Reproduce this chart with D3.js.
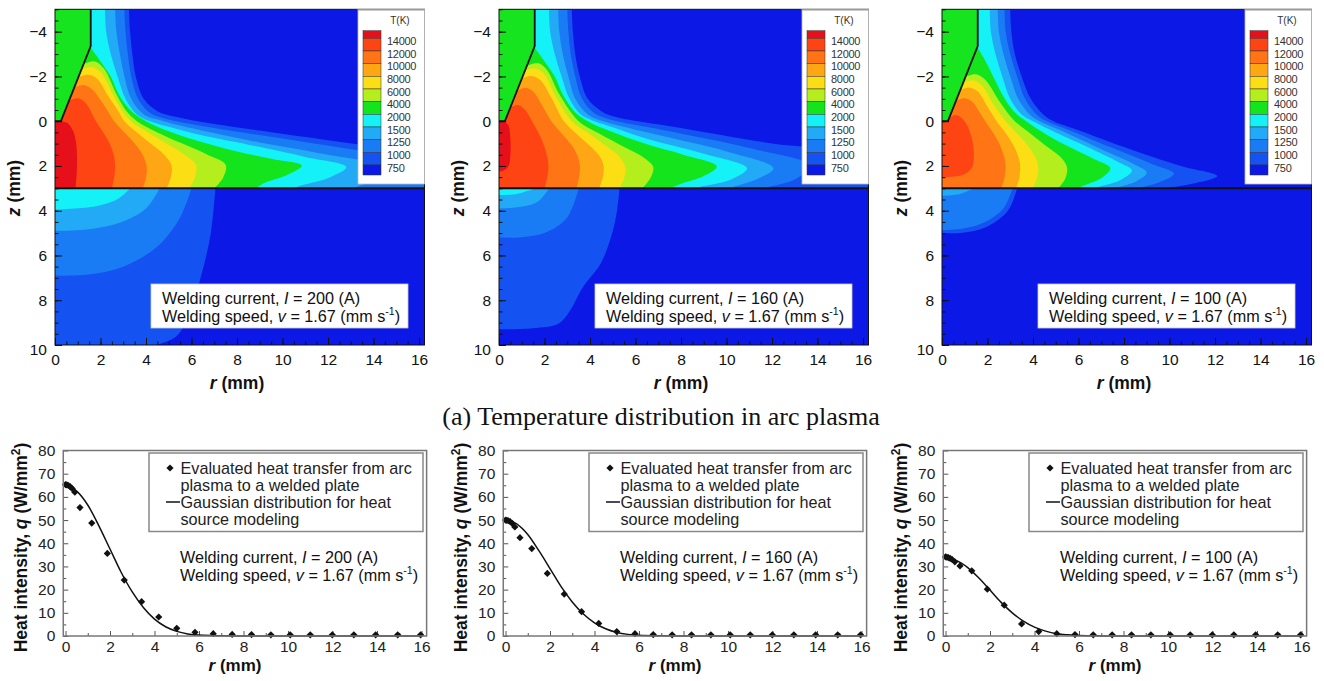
<!DOCTYPE html>
<html>
<head>
<meta charset="utf-8">
<script src="https://cdn.jsdelivr.net/npm/d3@7"></script>
<style>
  body { margin: 0; background: #fff; }
  svg { display: block; }
  text { font-family: "Liberation Sans", Arial, Helvetica, sans-serif; }
  text.caption { font-family: "Liberation Serif", "Times New Roman", serif; }
</style>
</head>
<body>
<svg id="fig" width="1324" height="681"></svg>
<script>
// ---------------- data ----------------
const currents = [200, 160, 100];
const weldingSpeed = "1.67";

// isotherm levels (K) and legend labels, colour of each band (below 750 first)
const levels = [750, 1000, 1250, 1500, 2000, 4000, 6000, 8000, 10000, 12000, 14000];
const legendLabels = ["14000", "12000", "10000", "8000", "6000", "4000", "2000", "1500", "1250", "1000", "750"];
const bandColors = ["#0b18e6", "#1452f2", "#1a7cf4", "#22aaf6", "#14f2f8", "#14e41c",
                    "#b4ee1c", "#fcde14", "#ffa614", "#ff7414", "#ff4414", "#e6101a"];
const electrodeColor = "#16e41e";

// tungsten electrode outline (r, z) in mm
const electrode = [[0, -5], [1.57, -5], [1.57, -3.36], [0.26, 0], [0, 0]];

// isotherms in the arc (z < 3), each [level, [[r, z], ...]]
const arcIso200 = [
  [750,  [[3.25,-5],[3.3,-4],[3.4,-3],[3.55,-2],[3.9,-1],[4.5,-0.45],[5.3,-0.2],[6.4,0.02],[9,0.42],[12,0.85],[14.5,1.2],[16.6,1.5],[16.6,3]]],
  [1000, [[3.05,-5],[3.1,-4],[3.2,-3],[3.35,-2],[3.65,-1],[4.2,-0.35],[4.9,-0.1],[6.4,0.2],[9.5,0.7],[13,1.25],[16.6,1.8],[16.6,3]]],
  [1250, [[2.64,-5],[2.7,-4],[2.85,-3],[3.05,-2],[3.35,-1],[3.9,-0.3],[4.6,-0.05],[5.3,0.15],[6.4,0.4],[9,0.95],[12,1.5],[14.3,2.05],[14.0,2.6],[13.0,3]]],
  [1500, [[2.2,-5],[2.25,-4],[2.45,-3],[2.75,-2],[3.1,-1],[3.6,-0.3],[4.3,0.05],[5.2,0.3],[6.4,0.62],[8.5,1.05],[11,1.6],[12.8,2.05],[12.1,2.5],[10.9,2.85],[10.4,3]]],
  [2000, [[1.55,-3.3],[1.95,-2.75],[2.45,-2.0],[2.8,-1.2],[3.3,-0.5],[4.0,0.0],[5.0,0.45],[6.4,0.92],[8.0,1.35],[9.6,1.7],[10.85,1.98],[10.2,2.4],[9.3,2.72],[8.8,3]]],
  [4000, [[1.25,-2.55],[1.75,-2.67],[2.15,-2.35],[2.7,-1.2],[3.1,-0.5],[3.6,0.0],[4.5,0.5],[5.6,1.0],[6.7,1.5],[7.5,1.95],[7.4,2.5],[7.0,3]]],
  [6000, [[1.16,-2.3],[1.6,-2.42],[2.0,-2.2],[2.55,-1.2],[2.9,-0.55],[3.35,0.0],[4.1,0.5],[4.9,1.0],[5.7,1.5],[6.2,1.95],[6.15,2.5],[5.9,3]]],
  [8000, [[1.02,-1.95],[1.45,-2.07],[1.85,-1.9],[2.35,-1.1],[2.75,-0.5],[3.05,0.0],[3.6,0.5],[4.2,1.0],[4.8,1.5],[5.13,2.0],[5.08,2.55],[4.9,3]]],
  [10000,[[0.85,-1.5],[1.25,-1.62],[1.6,-1.45],[2.1,-0.8],[2.6,0.0],[3.1,0.55],[3.5,1.0],[3.85,1.5],[4.03,2.05],[3.98,2.6],[3.85,3]]],
  [12000,[[0.61,-0.9],[1.0,-1.02],[1.35,-0.8],[1.8,0.0],[2.15,0.55],[2.4,1.0],[2.6,1.6],[2.64,2.1],[2.58,2.6],[2.5,3]]],
  [14000,[[0.26,0.0],[0.55,0.08],[0.8,0.45],[0.93,1.0],[0.97,1.7],[0.95,2.4],[0.9,3]]]
];
const arcIso160 = [
  [750,  [[3.2,-5],[3.25,-4],[3.35,-3],[3.55,-2],[3.9,-1],[4.5,-0.45],[5.1,-0.2],[8,0.3],[12,1.0],[16.6,1.7],[16.6,3]]],
  [1000, [[3.0,-5],[3.05,-4],[3.15,-3],[3.35,-2],[3.65,-1],[4.2,-0.35],[4.8,-0.1],[7.5,0.45],[11,1.2],[13.7,2.0],[13.0,2.6],[11.5,3]]],
  [1250, [[2.6,-5],[2.65,-4],[2.8,-3],[3.05,-2],[3.35,-1],[3.9,-0.3],[4.5,-0.02],[5.3,0.2],[7,0.62],[10,1.35],[12.06,2.1],[11.3,2.6],[10,3]]],
  [1500, [[2.2,-5],[2.25,-4],[2.45,-3],[2.75,-2],[3.1,-1],[3.6,-0.3],[4.2,0.0],[5.1,0.3],[6.5,0.78],[9,1.45],[10.9,2.1],[10.2,2.6],[9.0,2.9],[8.6,3]]],
  [2000, [[1.55,-3.3],[1.95,-2.75],[2.45,-2.0],[2.8,-1.2],[3.3,-0.45],[3.9,0.0],[4.9,0.45],[6.4,1.0],[8.1,1.5],[9.57,2.02],[9.0,2.45],[8.0,2.8],[7.5,3]]],
  [4000, [[1.22,-2.47],[1.7,-2.6],[2.1,-2.3],[2.65,-1.2],[3.5,0.0],[4.4,0.55],[5.5,1.15],[6.4,1.65],[6.78,2.05],[6.65,2.55],[6.3,3]]],
  [6000, [[1.14,-2.25],[1.55,-2.37],[1.95,-2.15],[2.5,-1.1],[3.2,0.0],[3.95,0.55],[4.7,1.1],[5.3,1.6],[5.55,2.05],[5.5,2.55],[5.3,3]]],
  [8000, [[0.99,-1.9],[1.4,-2.02],[1.8,-1.85],[2.3,-1.05],[2.85,0.0],[3.45,0.6],[4.05,1.15],[4.45,1.6],[4.6,2.05],[4.55,2.55],[4.4,3]]],
  [10000,[[0.79,-1.36],[1.15,-1.5],[1.5,-1.33],[1.9,-0.7],[2.3,0.0],[2.8,0.6],[3.25,1.15],[3.5,1.7],[3.56,2.1],[3.5,2.6],[3.4,3]]],
  [12000,[[0.5,-0.62],[0.85,-0.72],[1.15,-0.5],[1.45,0.0],[1.75,0.55],[1.98,1.1],[2.14,1.7],[2.17,2.15],[2.1,2.6],[2.0,3]]],
  [14000,[[0.26,0.02],[0.42,0.2],[0.5,0.8],[0.5,1.5],[0.42,2.0],[0.2,2.2],[0,2.25]]]
];
const arcIso100 = [
  [750,  [[3.0,-5],[3.05,-4],[3.2,-3],[3.5,-2],[3.9,-1],[4.45,-0.3],[4.9,0.0],[6,0.4],[8,1.15],[10.5,2.0],[12.1,2.45],[11.0,2.8],[9.8,3]]],
  [1000, [[2.75,-5],[2.8,-4],[3.0,-3],[3.3,-2],[3.65,-1],[4.15,-0.3],[4.6,0.0],[5.6,0.4],[7.5,1.2],[9.2,1.9],[10.2,2.35],[9.5,2.75],[8.5,3]]],
  [1250, [[2.45,-5],[2.5,-4],[2.7,-3],[3.0,-2],[3.35,-1],[3.85,-0.3],[4.3,0.0],[5.3,0.45],[7,1.25],[8.4,1.9],[9.0,2.3],[8.5,2.7],[7.5,3]]],
  [1500, [[2.1,-5],[2.15,-4],[2.35,-3],[2.65,-2],[3.0,-1],[3.5,-0.3],[4.0,0.0],[5.0,0.5],[6.4,1.15],[7.7,1.8],[8.35,2.2],[7.9,2.6],[7.0,2.9],[6.6,3]]],
  [2000, [[1.55,-3.3],[1.85,-2.8],[2.25,-2.0],[2.7,-1.1],[3.15,-0.45],[3.7,0.0],[4.6,0.6],[5.7,1.2],[6.7,1.7],[7.4,2.1],[7.0,2.55],[6.3,2.85],[5.9,3]]],
  [4000, [[1.04,-2.0],[1.5,-2.1],[1.9,-1.85],[2.55,-0.85],[3.2,0.0],[3.95,0.6],[4.7,1.2],[5.3,1.7],[5.5,2.1],[5.4,2.6],[5.1,3]]],
  [6000, [[0.93,-1.72],[1.35,-1.83],[1.75,-1.6],[2.3,-0.7],[2.8,0.0],[3.35,0.6],[3.85,1.2],[4.2,1.85],[4.2,2.45],[4.0,3]]],
  [8000, [[0.8,-1.39],[1.2,-1.5],[1.55,-1.35],[2.0,-0.65],[2.4,0.0],[2.85,0.6],[3.2,1.2],[3.42,1.85],[3.4,2.5],[3.25,3]]],
  [10000,[[0.62,-0.92],[1.0,-1.03],[1.35,-0.85],[1.65,-0.4],[1.9,0.0],[2.3,0.6],[2.6,1.2],[2.78,1.85],[2.75,2.5],[2.6,3]]],
  [12000,[[0.33,-0.18],[0.65,-0.28],[0.95,-0.05],[1.2,0.4],[1.36,1.0],[1.4,1.6],[1.3,2.1],[0.9,2.4],[0.4,2.48],[0,2.5]]]
];

// isotherms in the welded plate (z > 3)
const plateIso200 = [
  [750,  [[7.05,3],[6.85,5],[6.4,7],[5.9,8.6],[5.35,9.6],[4.6,9.95],[4.0,10.1]]],
  [1000, [[6.0,3],[5.5,4.3],[4.5,5.6],[3.0,6.5],[1.5,6.85],[0,6.9]]],
  [1250, [[4.6,3],[4.0,3.9],[2.8,4.55],[1.3,4.85],[0,4.9]]],
  [1500, [[3.3,3],[2.8,3.45],[1.8,3.8],[0,3.95]]]
];
const plateIso160 = [
  [750,  [[5.3,3],[5.1,4.5],[4.5,6.3],[3.7,7.4],[3.1,8.5],[2.6,9.05],[1.5,9.25],[0,9.3]]],
  [1000, [[3.5,3],[3.0,4.3],[2.0,5.0],[1.0,5.18],[0,5.2]]],
  [1250, [[2.2,3],[1.7,3.6],[0.8,3.85],[0,3.9]]],
  [1500, [[1.6,3],[0.8,3.25],[0,3.3]]]
];
const plateIso100 = [
  [750,  [[3.3,3],[2.9,4.0],[1.9,4.75],[0.9,4.98],[0,5.0]]],
  [1000, [[3.1,3],[2.7,3.9],[1.8,4.55],[0.8,4.82],[0,4.87]]],
  [1250, [[1.4,3],[0.8,3.25],[0,3.33]]]
];

// heat intensity at the plate surface, q (W/mm^2)
const rSamples = [0, 0.06, 0.13, 0.21, 0.3, 0.42, 0.65, 1.18, 1.88, 2.64, 3.42, 4.19, 5.0, 5.82, 6.64, 7.49, 8.36, 9.23, 10.1, 11.0, 11.99, 12.96, 13.94, 14.93, 15.96];
const heat200 = [65.3, 65.2, 64.9, 64.4, 63.6, 62.0, 55.4, 48.7, 35.6, 24.1, 14.8, 8.2, 3.3, 1.6, 1.0, 0.7, 0.6, 0.5, 0.5, 0.5, 0.5, 0.5, 0.5, 0.5, 0.5];
const heat160 = [50.0, 49.9, 49.7, 49.3, 48.6, 47.0, 42.4, 37.7, 27.0, 18.1, 10.5, 5.4, 1.9, 1.0, 0.6, 0.5, 0.5, 0.5, 0.5, 0.5, 0.5, 0.5, 0.5, 0.5, 0.5];
const heat100 = [34.1, 34.0, 33.8, 33.5, 33.0, 32.0, 30.2, 28.1, 20.2, 13.3, 5.2, 1.9, 1.0, 0.6, 0.5, 0.5, 0.5, 0.5, 0.5, 0.5, 0.5, 0.5, 0.5, 0.5, 0.5];

// Gaussian heat source model
const gaussR   = [0, 0.5, 1, 1.5, 2, 2.5, 3, 3.5, 4, 4.5, 5, 5.5, 6, 7, 8, 10, 12, 14, 16];
const gauss200 = [64.5, 62.5, 56.5, 47.5, 37.5, 27.5, 19.0, 12.3, 7.3, 4.0, 2.0, 0.9, 0.4, 0.1, 0, 0, 0, 0, 0];
const gauss160 = [50.0, 48.4, 43.8, 36.8, 29.1, 21.3, 14.7, 9.5, 5.7, 3.1, 1.55, 0.7, 0.3, 0.08, 0, 0, 0, 0, 0];
const gauss100 = [33.5, 32.5, 29.5, 25.0, 19.8, 14.5, 10.0, 6.4, 3.8, 2.1, 1.0, 0.5, 0.2, 0.05, 0, 0, 0, 0, 0];

const contourTicksR = [0, 2, 4, 6, 8, 10, 12, 14, 16];
const contourTicksZ = [-4, -2, 0, 2, 4, 6, 8, 10];
const heatTicksR = [0, 2, 4, 6, 8, 10, 12, 14, 16];
const heatTicksQ = [0, 10, 20, 30, 40, 50, 60, 70, 80];
const legendText = ["Evaluated heat transfer from arc", "plasma to a welded plate",
                    "Gaussian distribution for heat", "source modeling"];
const captionText = "(a) Temperature distribution in arc plasma";

const arcSets = [arcIso200, arcIso160, arcIso100];
const plateSets = [plateIso200, plateIso160, plateIso100];
const heatSets = [heat200, heat160, heat100];
const gaussSets = [gauss200, gauss160, gauss100];

// ---------------- drawing ----------------
const svg = d3.select("#fig");
const defs = svg.append("defs");
const contourLeft = [55, 499, 942];
const heatOffset = [0, 440, 880];
const noteSize = 16.2;

function weldingLabel(sel, x, y1, y2, current, size) {
  const t1 = sel.append("text").attr("x", x).attr("y", y1).attr("font-size", size).attr("fill", "#111");
  t1.append("tspan").text("Welding current, ");
  t1.append("tspan").attr("font-style", "italic").text("I");
  t1.append("tspan").text(` = ${current} (A)`);
  const t2 = sel.append("text").attr("x", x).attr("y", y2).attr("font-size", size).attr("fill", "#111");
  t2.append("tspan").text("Welding speed, ");
  t2.append("tspan").attr("font-style", "italic").text("v");
  t2.append("tspan").text(` = ${weldingSpeed} (mm s`);
  t2.append("tspan").attr("font-size", size * 0.65).attr("dy", -size * 0.42).text("-1");
  t2.append("tspan").attr("dy", size * 0.42).text(")");
}

function drawContour(i) {
  const left = contourLeft[i];
  const rMax = 16.24;
  const x = d3.scaleLinear().domain([0, rMax]).range([left, left + 369.5]);
  const y = d3.scaleLinear().domain([-5, 10]).range([9.3, 345]);
  const g = svg.append("g");

  const arcId = "arc" + i, plateId = "plate" + i;
  defs.append("clipPath").attr("id", arcId).append("rect")
    .attr("x", x(0)).attr("y", y(-5)).attr("width", x(rMax) - x(0)).attr("height", y(3) - y(-5));
  defs.append("clipPath").attr("id", plateId).append("rect")
    .attr("x", x(0)).attr("y", y(3)).attr("width", x(rMax) - x(0)).attr("height", y(10) - y(3));

  g.append("rect").attr("x", x(0)).attr("y", y(-5)).attr("width", x(rMax) - x(0))
    .attr("height", y(10) - y(-5)).attr("fill", bandColors[0]);

  const curve = d3.line().x(d => x(d[0])).y(d => y(d[1])).curve(d3.curveCatmullRom.alpha(0.5));
  const isoPath = (pts, zClose) => {
    const last = pts[pts.length - 1];
    return curve(pts) + `L${x(0)},${y(last[1])}L${x(0)},${y(zClose)}Z`;
  };
  const colorOf = lv => bandColors[levels.indexOf(lv) + 1];

  const arcG = g.append("g").attr("clip-path", `url(#${arcId})`);
  arcG.selectAll("path").data(arcSets[i]).join("path")
    .attr("d", d => isoPath(d[1], -5)).attr("fill", d => colorOf(d[0]));

  const plateG = g.append("g").attr("clip-path", `url(#${plateId})`);
  plateG.selectAll("path").data(plateSets[i]).join("path")
    .attr("d", d => isoPath(d[1], 3)).attr("fill", d => colorOf(d[0]));

  // electrode
  const poly = d3.line().x(d => x(d[0])).y(d => y(d[1]));
  g.append("path").attr("d", poly(electrode) + "Z").attr("fill", electrodeColor);
  g.append("path").attr("d", poly(electrode.slice(1))).attr("fill", "none")
    .attr("stroke", "#111").attr("stroke-width", 1.8);

  // plate surface
  g.append("line").attr("x1", x(0)).attr("x2", x(rMax)).attr("y1", y(3)).attr("y2", y(3))
    .attr("stroke", "#111").attr("stroke-width", 2);

  // axes with inward ticks
  const axL = g.append("g").attr("transform", `translate(${x(0)},0)`)
    .call(d3.axisLeft(y).tickValues(contourTicksZ).tickSizeInner(-7).tickSizeOuter(0).tickPadding(8));
  g.append("g").attr("transform", `translate(${x(0)},0)`)
    .call(d3.axisLeft(y).tickValues(d3.range(-5, 10.01, 0.5)).tickSizeInner(-3.5).tickSizeOuter(0).tickFormat(""));
  const axB = g.append("g").attr("transform", `translate(0,${y(10)})`)
    .call(d3.axisBottom(x).tickValues(contourTicksR).tickSizeInner(-7).tickSizeOuter(0).tickPadding(9));
  g.append("g").attr("transform", `translate(0,${y(10)})`)
    .call(d3.axisBottom(x).tickValues(d3.range(0, 16.01, 0.5)).tickSizeInner(-3.5).tickSizeOuter(0).tickFormat(""));
  g.selectAll(".domain").remove();
  g.selectAll(".tick line").attr("stroke", "#111");
  [axL, axB].forEach(a => a.selectAll("text").attr("font-size", 15.5).attr("fill", "#111")
    .attr("font-family", null));
  axL.selectAll(".tick").filter(d => d === 10).select("text").attr("dy", "0.62em").attr("x", -8);

  g.append("rect").attr("x", x(0)).attr("y", y(-5)).attr("width", x(rMax) - x(0))
    .attr("height", y(10) - y(-5)).attr("fill", "none").attr("stroke", "#111").attr("stroke-width", 1);

  // axis titles
  const zt = g.append("text").attr("transform", `translate(${left - 35},188) rotate(-90)`)
    .attr("text-anchor", "middle").attr("font-size", 17.5).attr("font-weight", "bold").attr("fill", "#111");
  zt.append("tspan").attr("font-style", "italic").text("z");
  zt.append("tspan").text(" (mm)");
  const rt = g.append("text").attr("x", left + 182).attr("y", 389)
    .attr("text-anchor", "middle").attr("font-size", 17.5).attr("font-weight", "bold").attr("fill", "#111");
  rt.append("tspan").attr("font-style", "italic").text("r");
  rt.append("tspan").text(" (mm)");

  // colour legend
  const lx = left + 303;
  g.append("rect").attr("x", lx).attr("y", 9.3).attr("width", x(rMax) - lx).attr("height", 184 - 9.3)
    .attr("fill", "#fff").attr("stroke", "#bbb").attr("stroke-width", 0.8);
  g.append("line").attr("x1", lx).attr("x2", x(rMax)).attr("y1", 9.8).attr("y2", 9.8)
    .attr("stroke", "#999").attr("stroke-width", 1.5);
  g.append("text").attr("x", lx + 42).attr("y", 24).attr("text-anchor", "middle")
    .attr("font-size", 10).attr("fill", "#333").text("T(K)");
  const cb = d3.scaleLinear().domain([0, 10]).range([38.3, 165]);
  const bands = bandColors.slice().reverse();
  const edges = [30.7].concat(d3.range(0, 11).map(k => cb(k))).concat([175]);
  g.selectAll(".sw").data(bands).join("rect").attr("class", "sw")
    .attr("x", lx + 5).attr("width", 18)
    .attr("y", (d, k) => edges[k]).attr("height", (d, k) => edges[k + 1] - edges[k])
    .attr("fill", d => d).attr("stroke", "#333").attr("stroke-width", 0.5);
  g.selectAll(".lb").data(legendLabels).join("text").attr("class", "lb")
    .attr("x", lx + 29).attr("y", (d, k) => cb(k) + 3 + 3.8)
    .attr("font-size", 11).attr("fill", "#333").attr("letter-spacing", -0.3).text(d => d);

  // operating conditions
  g.append("rect").attr("x", left + 96).attr("y", 284).attr("width", 257).attr("height", 44)
    .attr("fill", "#fff").attr("stroke", "#ccc").attr("stroke-width", 0.8);
  weldingLabel(g, left + 107, 303.5, 322, currents[i], noteSize);
}

function drawHeat(i) {
  const off = heatOffset[i];
  const x = d3.scaleLinear().domain([0, 16]).range([65.5 + off, 421.5 + off]);
  const y = d3.scaleLinear().domain([0, 80]).range([636, 450.5]);
  const g = svg.append("g");
  const x0 = x(-0.1), x1 = x(16.23);

  g.append("rect").attr("x", x0).attr("y", y(80)).attr("width", x1 - x0).attr("height", y(0) - y(80))
    .attr("fill", "#fff");

  const axL = g.append("g").attr("transform", `translate(${x0},0)`)
    .call(d3.axisLeft(y).tickValues(heatTicksQ).tickSizeInner(-5).tickSizeOuter(0).tickPadding(8));
  g.append("g").attr("transform", `translate(${x0},0)`)
    .call(d3.axisLeft(y).tickValues(d3.range(5, 80, 10)).tickSizeInner(-3).tickSizeOuter(0).tickFormat(""));
  const axB = g.append("g").attr("transform", `translate(0,${y(0)})`)
    .call(d3.axisBottom(x).tickValues(heatTicksR).tickSizeInner(-5).tickSizeOuter(0).tickPadding(5));
  g.append("g").attr("transform", `translate(0,${y(0)})`)
    .call(d3.axisBottom(x).tickValues(d3.range(1, 16, 2)).tickSizeInner(-3).tickSizeOuter(0).tickFormat(""));
  g.selectAll(".domain").remove();
  g.selectAll(".tick line").attr("stroke", "#555");
  [axL, axB].forEach(a => a.selectAll("text").attr("font-size", 15.5).attr("fill", "#222")
    .attr("font-family", null));

  // Gaussian model curve
  const pts = gaussR.map((r, k) => [r, gaussSets[i][k]]);
  g.append("path").attr("d", d3.line().x(d => x(d[0])).y(d => y(d[1])).curve(d3.curveMonotoneX)(pts))
    .attr("fill", "none").attr("stroke", "#111").attr("stroke-width", 1.5);

  // evaluated heat transfer
  const diamond = d3.symbol(d3.symbolSquare, 26);
  g.selectAll(".pt").data(rSamples.map((r, k) => [r, heatSets[i][k]])).join("path").attr("class", "pt")
    .attr("d", diamond).attr("fill", "#111")
    .attr("transform", d => `translate(${x(d[0])},${y(d[1])}) rotate(45)`);

  g.append("rect").attr("x", x0).attr("y", y(80)).attr("width", x1 - x0).attr("height", y(0) - y(80))
    .attr("fill", "none").attr("stroke", "#777").attr("stroke-width", 1.5);

  // legend
  const lx = 149 + off;
  g.append("rect").attr("x", lx).attr("y", 453).attr("width", 274).attr("height", 78.5)
    .attr("fill", "#fff").attr("stroke", "#888").attr("stroke-width", 1.5);
  g.append("path").attr("d", diamond).attr("fill", "#111")
    .attr("transform", `translate(${170 + off},468) rotate(45)`);
  g.append("line").attr("x1", 166 + off).attr("x2", 180 + off).attr("y1", 502).attr("y2", 502)
    .attr("stroke", "#111").attr("stroke-width", 1.5);
  g.selectAll(".lt").data(legendText).join("text").attr("class", "lt")
    .attr("x", 180.5 + off).attr("y", (d, k) => 474 + k * 17)
    .attr("font-size", noteSize).attr("fill", "#222").text(d => d);

  weldingLabel(g, 180 + off, 563, 581, currents[i], noteSize);

  // axis titles
  const yt = g.append("text").attr("transform", `translate(${26.5 + off},547.5) rotate(-90)`)
    .attr("text-anchor", "middle").attr("font-size", 17.5).attr("font-weight", "bold").attr("fill", "#111");
  yt.append("tspan").text("Heat intensity, ");
  yt.append("tspan").attr("font-style", "italic").text("q");
  yt.append("tspan").text(" (W/mm");
  yt.append("tspan").attr("font-size", 12).attr("dy", -6.5).text("2");
  yt.append("tspan").attr("dy", 6.5).text(")");
  const rt = g.append("text").attr("x", 235 + off).attr("y", 671)
    .attr("text-anchor", "middle").attr("font-size", 17).attr("font-weight", "bold").attr("fill", "#111");
  rt.append("tspan").attr("font-style", "italic").text("r");
  rt.append("tspan").text(" (mm)");
}

[0, 1, 2].forEach(drawContour);
[0, 1, 2].forEach(drawHeat);

svg.append("text").attr("class", "caption").attr("x", 661).attr("y", 425).attr("text-anchor", "middle")
  .attr("font-size", 26).attr("fill", "#111").text(captionText);
</script>
</body>
</html>
